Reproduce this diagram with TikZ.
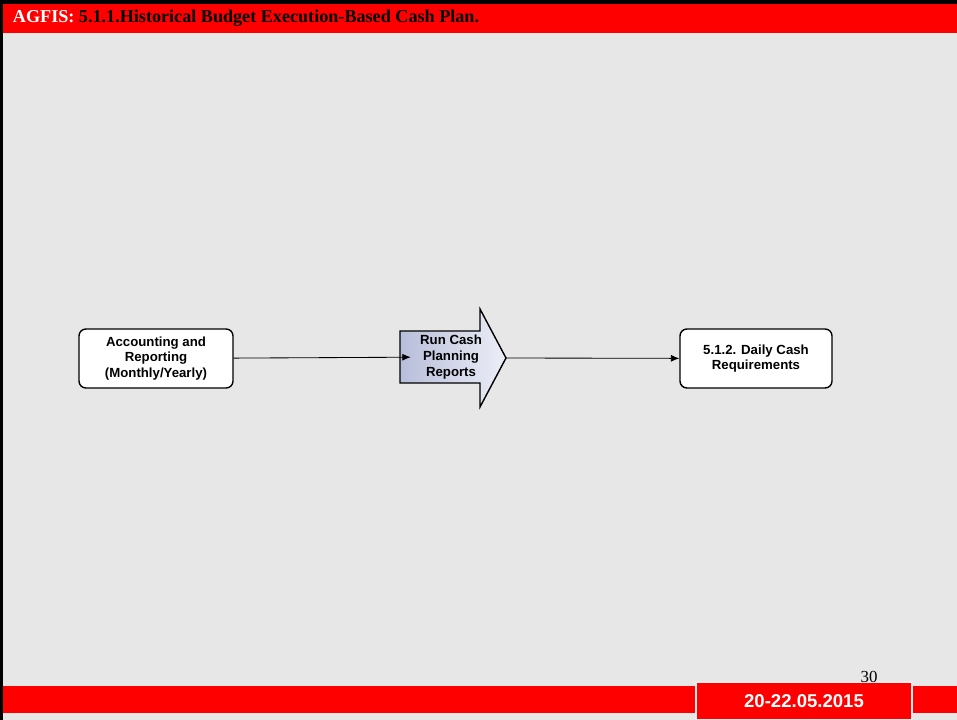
\documentclass[tikz,border=0pt]{standalone}
\usepackage{fontspec}
\setmainfont{Liberation Serif}
\setsansfont{Liberation Sans}
\usetikzlibrary{positioning,arrows.meta}
\definecolor{bandred}{RGB}{255,0,0}
\definecolor{pagegray}{RGB}{231,231,231}
\definecolor{arrowdark}{RGB}{184,190,218}
\definecolor{arrowlight}{RGB}{236,238,246}

\begin{document}
\begin{tikzpicture}[
    x=0.025cm, y=-0.025cm,
    box/.style={%
      draw,
      line width=1pt,
      rounded corners=5pt,
      fill=white,
      align=center,
      font=\sffamily\bfseries\fontsize{9.4}{11.2}\selectfont,
    },
    link/.style={%
      -{Latex[length=6pt,width=5pt]},
      line width=0.6pt,
    },
  ]
    \useasboundingbox (0,0) rectangle (957,720);
    \fill [pagegray] (0,0) rectangle (957,720);

    % frame
    \fill [black] (0,0) rectangle (957,4);
    \fill [bandred] (0,4) rectangle (957,33);
    \fill [black] (0,0) rectangle (3,720);
    \fill [bandred] (3,686) rectangle (957,713);
    \node [anchor=west, font=\bfseries\fontsize{12.9}{15}\selectfont] (title) at (8,18)
      {\textcolor{white}{AGFIS:} 5.1.1.Historical Budget Execution-Based Cash Plan.};

    % footer
    \node [draw=white!85!gray, fill=bandred, line width=0.8pt, minimum width=5.4cm,
      minimum height=0.95cm, font=\sffamily\bfseries\fontsize{13.2}{15}\selectfont,
      text=white] (date) at (804,701) {20-22.05.2015};
    \node [font=\fontsize{12}{14}\selectfont] (page) at (869,677) {30};

    % process
    \node [box, minimum width=3.85cm, minimum height=1.475cm] (acc) at (156,358.5)
      {Accounting and\\Reporting\\(Monthly/Yearly)};
    \shade [draw, line width=1pt, left color=arrowdark, right color=arrowlight]
      (400,331) -- (480,331) -- (480,309) -- (506,358) -- (480,407)
      -- (480,383) -- (400,383) -- cycle;
    \coordinate (tip) at (506,358);
    \node [align=center, inner sep=0pt, minimum width=2cm, minimum height=1.3cm,
      font=\sffamily\bfseries\fontsize{9.4}{11.2}\selectfont] (run) at (451,357)
      {Run Cash\\Planning\\Reports};
    \node [box, minimum width=3.8cm, minimum height=1.475cm] (daily) at (756,358.5)
      {5.1.2. Daily Cash\\Requirements};

    \draw [link] (acc) -- (run);
    \draw [link] (tip) -- (daily);
\end{tikzpicture}
\end{document}
